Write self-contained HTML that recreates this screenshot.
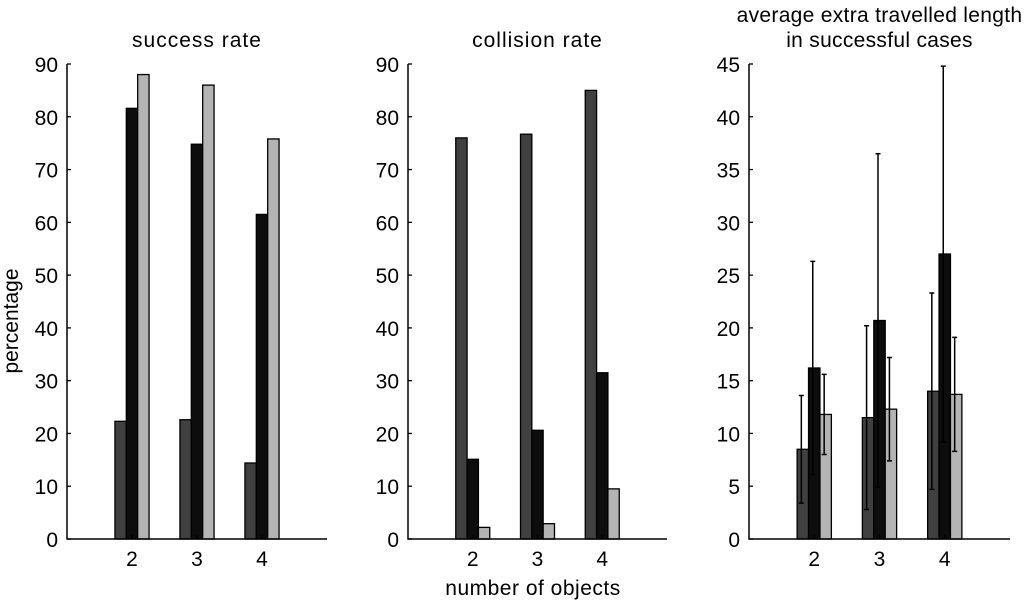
<!DOCTYPE html>
<html><head><meta charset="utf-8"><style>
body{margin:0;background:#fff;}
svg{display:block;font-family:"Liberation Sans",sans-serif;}
text{font-size:21px;fill:#000;}
</style></head><body>
<svg id="chart" width="1024" height="603" viewBox="0 0 1024 603"></svg>
<script>
const categories = [2, 3, 4];
const successDark = [22.3, 22.6, 14.4];
const successBlack = [81.6, 74.8, 61.5];
const successGray = [88, 86, 75.8];
const collisionDark = [76, 76.7, 85];
const collisionBlack = [15.1, 20.6, 31.5];
const collisionGray = [2.2, 2.9, 9.5];
const lengthDark = [8.5, 11.5, 14];
const lengthBlack = [16.2, 20.7, 27];
const lengthGray = [11.8, 12.3, 13.7];
const lengthDarkErr = [5.1, 8.7, 9.3];
const lengthBlackErr = [10.1, 15.8, 17.8];
const lengthGrayErr = [3.8, 4.9, 5.4];
const ticksA = [0,10,20,30,40,50,60,70,80,90];
const ticksC = [0,5,10,15,20,25,30,35,40,45];

const svg = document.getElementById('chart');
const NS = 'http://www.w3.org/2000/svg';
function mk(tag, attrs, parent){const e=document.createElementNS(NS,tag);for(const k in attrs)e.setAttribute(k,attrs[k]);(parent||svg).appendChild(e);return e;}
const colors = ['#404040','#0d0d0d','#b4b4b4'];
const Y0 = 539, Y1 = 64;

function panel(name, x0, x1, ymax, ticks, series, errs, titleLines){
  const g = mk('g', {});
  
  
  const sx = v => x0 + (v - 1) / 4 * (x1 - x0);
  const sy = v => Y0 - v / ymax * (Y0 - Y1);
  const bw = (x1 - x0) / 4 * 0.175;
  series.forEach((vals, si) => {
    vals.forEach((v, ci) => {
      const cx = sx(categories[ci]) + (si - 1) * bw;
      const r = mk('rect', {x: cx - bw/2, y: sy(v), width: bw, height: Y0 - sy(v), fill: colors[si], stroke: '#000', 'stroke-width': 1.3}, g);
      
      
      if (errs) {
        const e = errs[si][ci];
        const ex = cx - 1.5;
        const l = mk('path', {d: `M${ex},${sy(v-e)}V${sy(v+e)}M${ex-2.5},${sy(v+e)}H${ex+2.5}M${ex-2.5},${sy(v-e)}H${ex+2.5}`, stroke: '#000', 'stroke-width': 1.5, fill: 'none'}, g);
        
        
      }
    });
  });
  const ax = mk('path', {d: `M${x0},${Y1}V${Y0}H${x1}`, stroke: '#000', 'stroke-width': 1.5, fill: 'none'}, g);
  
  
  ticks.forEach(t => {
    mk('path', {d: `M${x0},${sy(t)}H${x0+4}`, stroke: '#000', 'stroke-width': 1.3}, g);
    const tl = mk('text', {x: x0 - 9, y: sy(t) + 8, 'text-anchor': 'end'}, g);
    tl.textContent = t;
    
    
  });
  categories.forEach(c => {
    mk('path', {d: `M${sx(c)},${Y0}V${Y0-4}`, stroke: '#000', 'stroke-width': 1.3}, g);
    const tl = mk('text', {x: sx(c), y: 566, 'text-anchor': 'middle'}, g);
    tl.textContent = c;
    
    
  });
  const cx = (x0 + x1) / 2;
  titleLines.forEach((s, i) => {
    const t = mk('text', {x: cx, y: 47 - (titleLines.length - 1 - i) * 25, 'text-anchor': 'middle', 'letter-spacing': titleLines.length > 1 ? 0.3 : 1}, g);
    t.textContent = s;
    
    
  });
}
panel('success-rate-panel', 67, 327, 90, ticksA, [successDark, successBlack, successGray], null, ['success rate']);
panel('collision-rate-panel', 408, 667, 90, ticksA, [collisionDark, collisionBlack, collisionGray], null, ['collision rate']);
panel('extra-length-panel', 749, 1010, 45, ticksC, [lengthDark, lengthBlack, lengthGray], [lengthDarkErr, lengthBlackErr, lengthGrayErr], ['average extra travelled length', 'in successful cases']);
const yl = mk('text', {x: 0, y: 0, 'text-anchor': 'middle', transform: 'translate(18,321) rotate(-90)'});
yl.textContent = 'percentage';


const xl = mk('text', {x: 533, y: 595, 'text-anchor': 'middle', 'letter-spacing': 0.5});
xl.textContent = 'number of objects';


</script>
</body></html>
